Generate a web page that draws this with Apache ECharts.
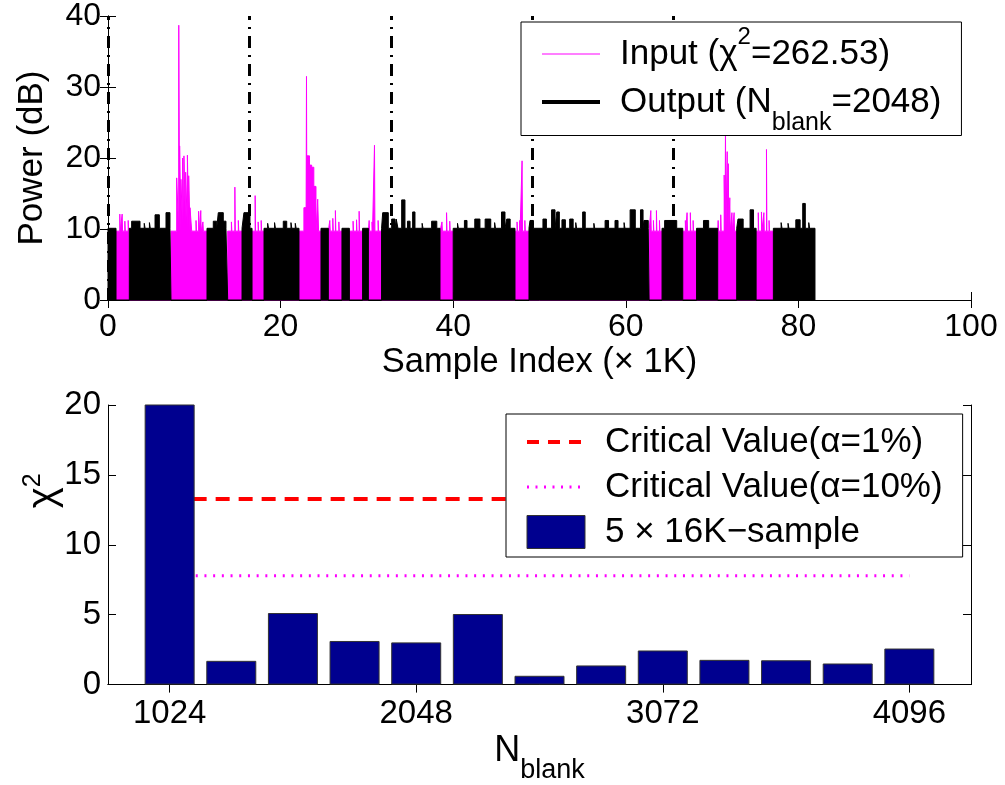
<!DOCTYPE html>
<html><head><meta charset="utf-8">
<script src="https://cdn.jsdelivr.net/npm/echarts@6/dist/echarts.min.js"></script>
<style>html,body{margin:0;padding:0;background:#fff}#c{width:1005px;height:785px}</style>
</head><body><div id="c"></div>
<script>
const FONT = '"Liberation Sans", Arial, Helvetica, sans-serif';

// ---------- Top panel: power vs sample index (x in K samples, y in dB) ----------
const frameBoundaries = [0, 16.384, 32.768, 49.152, 65.536];
// intervals where the output is present [startK, endK]
const outputBlocks = [[0,0.93],[2.47,7.30],[11.47,13.87],[15.53,16.69],[18.08,22.13],[24.68,25.53],[27.11,27.97],[29.50,30.17],[31.70,38.47],[40.00,47.16],[48.78,62.70],[64.20,66.60],[68.20,70.65],[72.85,75.10],[77.10,81.92]];
const outputBase = 10.1;
// raised parts of the output [startK, endK, dB]
const outputPeaks = [[2.74,3.71,11.1],[4.2,4.3,10.8],[4.8,4.9,10.9],[5.45,5.95,12.0],[6.72,7.18,12.3],[12.2,12.6,11.1],[12.78,13.36,12.3],[13.36,13.67,11.1],[15.75,16.45,12.3],[18.5,18.6,10.8],[19.3,19.4,10.9],[20.31,20.71,11.1],[21.2,21.3,10.9],[21.7,21.8,10.8],[31.83,32.48,12.3],[32.87,33.26,11.4],[33.4,33.6,11.4],[34.03,34.41,14.1],[34.7,35.0,11.1],[35.3,35.57,12.4],[36.4,36.5,10.8],[37.5,38.1,11.1],[40.5,40.6,10.8],[41.3,41.6,11.2],[42.5,43.1,11.4],[43.7,44.35,11.4],[44.8,44.9,10.9],[45.6,46.0,12.4],[46.2,46.6,11.4],[48.9,49.3,11.2],[50.4,50.8,11.4],[51.4,51.8,12.7],[52.0,52.3,12.4],[52.6,53.0,11.3],[53.5,53.9,11.4],[54.2,54.3,10.9],[55.0,55.3,12.4],[56.3,56.4,10.8],[57.6,58.0,11.2],[58.75,59.1,11.2],[59.8,59.9,10.9],[60.5,61.1,12.7],[61.7,62.0,12.7],[62.1,62.6,11.2],[64.5,65.9,11.2],[69.0,69.6,11.2],[73.0,73.6,11.4],[74.4,74.8,12.7],[78.0,78.1,10.9],[78.8,78.9,10.8],[79.7,80.2,11.3],[80.5,80.8,13.6],[81.2,81.3,10.9]];
// intervals where the input is visible (output blanked)
const inputBlocks = [[0.93,2.47],[7.30,11.47],[13.87,15.53],[16.69,18.08],[22.13,24.68],[25.53,27.11],[27.97,29.50],[30.17,31.70],[38.47,40.00],[47.16,48.78],[62.70,64.20],[66.60,68.20],[70.65,72.85],[75.10,77.10]];
const inputBase = 9.7;
const inputPeaks = [[1.37,1.42,12.1],[1.64,1.69,12.1],[1.95,2.0,11.1],[2.34,2.39,11.2],[7.96,8.19,17.2],[8.2,8.3,38.7],[8.3,8.45,21.7],[8.45,8.65,17.0],[8.65,8.75,20.0],[8.8,9.0,20.3],[9.0,9.2,18.0],[9.2,9.35,20.4],[9.35,9.5,17.5],[9.5,9.7,13.0],[10.2,10.25,11.2],[10.5,10.6,12.5],[10.75,10.8,12.6],[11.0,11.05,11.0],[14.3,14.35,11.0],[14.7,14.75,15.9],[15.1,15.15,11.2],[17.05,17.1,14.7],[17.4,17.45,11.0],[17.75,17.8,11.2],[22.7,22.95,13.0],[23.0,23.05,31.5],[23.05,23.35,20.3],[23.35,23.6,19.0],[23.6,23.85,18.7],[23.85,24.1,16.0],[24.3,24.4,14.2],[25.7,25.75,11.2],[26.05,26.1,11.5],[26.35,26.4,12.6],[26.75,26.8,11.0],[28.4,28.45,11.1],[28.8,28.85,11.3],[29.1,29.15,12.5],[30.26,30.31,11.2],[30.6,30.65,11.0],[30.88,30.93,21.8],[31.3,31.35,11.2],[38.7,38.75,11.0],[39.23,39.28,12.3],[39.6,39.65,11.1],[47.4,47.45,11.0],[47.7,47.75,11.2],[47.98,48.03,19.6],[48.3,48.35,11.2],[62.9,62.95,12.6],[63.2,63.25,11.2],[63.55,63.6,12.6],[63.9,63.95,11.2],[66.9,66.95,11.2],[67.1,67.15,12.3],[67.48,67.53,12.3],[67.8,67.85,11.2],[70.7,70.75,11.2],[71.0,71.05,12.0],[71.4,71.5,17.6],[71.55,71.6,24.0],[71.75,71.8,20.9],[71.88,71.93,19.2],[72.05,72.1,14.4],[72.3,72.35,12.3],[72.55,72.6,12.3],[75.35,75.4,12.3],[75.72,75.77,12.4],[76.0,76.05,12.3],[76.3,76.35,21.2],[76.6,76.65,11.2]];

// ---------- Bottom panel: chi-square vs N_blank ----------
const nBlank = [1024,1280,1536,1792,2048,2304,2560,2816,3072,3328,3584,3840,4096];
const chi2 = [21.0,1.70,5.12,3.12,3.02,5.05,0.63,1.37,2.44,1.77,1.74,1.51,2.58]; // first bar runs off the top
const critical1 = 13.28;
const critical10 = 7.78;
const bottomTicks = [1024,2048,3072,4096];

function buildProfile(blocks, base, peaks) {
  const pts = [];
  for (const [s, e] of blocks) {
    pts.push([s, 0], [s, base]);
    peaks.filter(p => p[0] >= s && p[1] <= e).sort((a, b) => a[0] - b[0]).forEach(([a, b, h]) => {
      pts.push([a, base], [a, h], [b, h], [b, base]);
    });
    pts.push([e, base], [e, 0]);
  }
  return pts;
}

const TICK = 32;
const axisCommon = {
  axisLine: {show: true, lineStyle: {color: '#000', width: 1}},
  axisTick: {show: true, inside: true, length: 8, lineStyle: {color: '#000'}},
  splitLine: {show: false},
  axisLabel: {color: '#000', fontFamily: FONT, fontSize: TICK},
  nameTextStyle: {color: '#000', fontFamily: FONT, fontSize: 35}
};
function ax(o) { return Object.assign({}, JSON.parse(JSON.stringify(axisCommon)), o); }
const noLabel = {show: false};
const plain = v => String(v);

const richSmall = {
  t: {fontFamily: FONT, fontSize: 35, color: '#000'},
  sup: {fontFamily: FONT, fontSize: 24, color: '#000', verticalAlign: 'top', height: 10},
  sub: {fontFamily: FONT, fontSize: 25, color: '#000', verticalAlign: 'bottom', height: 2}
};

const INPUT = 'Input', OUTPUT = 'Output';
const CV1 = 'Critical Value(α=1%)', CV10 = 'Critical Value(α=10%)', BARS = '5 × 16K−sample';

const option = {
  animation: false,
  backgroundColor: '#fff',
  grid: [
    {left: 108, top: 13, width: 863, height: 287},
    {left: 108, top: 405, width: 863, height: 287}
  ],
  xAxis: [
    ax({gridIndex: 0, type: 'value', min: 0, max: 100, interval: 20, position: 'bottom',
        axisLabel: {color: '#000', fontFamily: FONT, fontSize: TICK, margin: 11},
        name: 'Sample Index (× 1K)', nameLocation: 'middle', nameGap: 45,
        nameTextStyle: {color: '#000', fontFamily: FONT, fontSize: 34.5}}),
    ax({gridIndex: 0, type: 'value', min: 0, max: 100, interval: 20, position: 'top', axisLabel: noLabel}),
    ax({gridIndex: 1, type: 'value', min: 768, max: 4352, position: 'bottom',
        axisTick: {show: true, inside: true, length: 8, lineStyle: {color: '#000'}, customValues: bottomTicks},
        axisLabel: {color: '#000', fontFamily: FONT, fontSize: TICK + 1, margin: 13, customValues: bottomTicks, formatter: plain},
        name: '{n|N}{sub|blank}', nameLocation: 'middle', nameGap: 44,
        nameTextStyle: {color: '#000', fontFamily: FONT, fontSize: 35, lineHeight: 40,
          rich: {n: {fontFamily: FONT, fontSize: 36, color: '#000'}, sub: {fontFamily: FONT, fontSize: 27, color: '#000', verticalAlign: 'bottom', height: 2}}}}),
    ax({gridIndex: 1, type: 'value', min: 768, max: 4352, position: 'top', axisLabel: noLabel,
        axisTick: {show: true, inside: true, length: 8, lineStyle: {color: '#000'}, customValues: bottomTicks}})
  ],
  yAxis: [
    ax({gridIndex: 0, type: 'value', min: 0, max: 40, interval: 10, position: 'left',
        axisLabel: {color: '#000', fontFamily: FONT, fontSize: TICK, margin: 7},
        name: 'Power (dB)', nameLocation: 'middle', nameGap: 58, nameRotate: 90,
        nameTextStyle: {color: '#000', fontFamily: FONT, fontSize: 35}}),
    ax({gridIndex: 0, type: 'value', min: 0, max: 40, interval: 10, position: 'right', axisLabel: noLabel}),
    ax({gridIndex: 1, type: 'value', min: 0, max: 20, interval: 5, position: 'left',
        axisLabel: {color: '#000', fontFamily: FONT, fontSize: TICK + 1, margin: 7},
        name: '{c|χ}{sup|2}', nameLocation: 'middle', nameGap: 44, nameRotate: 90, nameMoveOverlap: false,
        nameTextStyle: {color: '#000', fontFamily: FONT, fontSize: 36, lineHeight: 40,
          rich: {c: {fontFamily: FONT, fontSize: 40, color: '#000', padding: [0, 0, 0, 108]}, sup: {fontFamily: FONT, fontSize: 25, color: '#000', verticalAlign: 'top', height: 18}}}}),
    ax({gridIndex: 1, type: 'value', min: 0, max: 20, interval: 5, position: 'right', axisLabel: noLabel})
  ],
  legend: [
    {
      orient: 'vertical', left: 521, top: 22, padding: [3, 20, 0, 19], itemGap: 4,
      itemWidth: 58, itemHeight: 20, backgroundColor: '#fff', borderColor: '#000', borderWidth: 1, z: 10,
      textStyle: {fontFamily: FONT, fontSize: 35, color: '#000', lineHeight: 44, padding: [0, 0, 0, 15], rich: richSmall},
      formatter: name => name === INPUT ? '{t|Input (χ}{sup|2}{t|=262.53)}' : '{t|Output (N}{sub|blank}{t|=2048)}',
      data: [
        {name: INPUT, lineStyle: {width: 1.2, color: '#ff00ff'}, itemStyle: {opacity: 0}},
        {name: OUTPUT, lineStyle: {width: 4, color: '#000'}, itemStyle: {opacity: 0}}
      ]
    },
    {
      orient: 'vertical', left: 506, top: 414, padding: [8, 20, 5, 19], itemGap: 5,
      itemWidth: 58, itemHeight: 33, backgroundColor: '#fff', borderColor: '#000', borderWidth: 1, z: 10,
      textStyle: {fontFamily: FONT, fontSize: 35, color: '#000', lineHeight: 40, padding: [0, 0, 0, 15]},
      data: [
        {name: CV1, lineStyle: {width: 4, color: '#ff0000', type: [12, 9]}, itemStyle: {opacity: 0}},
        {name: CV10, lineStyle: {width: 3, color: '#ff00ff', type: [2, 6.5]}, itemStyle: {opacity: 0}},
        {name: BARS, icon: 'rect', itemStyle: {color: '#00008F', borderColor: '#333', borderWidth: 1}}
      ]
    }
  ],
  series: [
    {
      name: INPUT, type: 'line', xAxisIndex: 0, yAxisIndex: 0, symbol: 'none', z: 2,
      data: buildProfile(inputBlocks, inputBase, inputPeaks),
      itemStyle: {color: '#ff00ff'},
      lineStyle: {color: '#ff00ff', width: 1},
      areaStyle: {color: '#ff00ff', opacity: 1}
    },
    {
      name: OUTPUT, type: 'line', xAxisIndex: 0, yAxisIndex: 0, symbol: 'none', z: 3,
      data: buildProfile(outputBlocks, outputBase, outputPeaks),
      itemStyle: {color: '#000'},
      lineStyle: {color: '#000', width: 1},
      areaStyle: {color: '#000', opacity: 1},
      markLine: {
        silent: true, symbol: ['none', 'none'], label: {show: false},
        lineStyle: {color: '#000', width: 3, type: [12, 7, 2, 7]},
        emphasis: {disabled: true},
        data: frameBoundaries.map(v => ({xAxis: v}))
      }
    },
    {
      name: CV1, type: 'line', xAxisIndex: 2, yAxisIndex: 2, symbol: 'none', z: 2,
      data: [[nBlank[0], critical1], [nBlank[nBlank.length - 1], critical1]],
      itemStyle: {color: '#ff0000'},
      lineStyle: {color: '#ff0000', width: 4, type: [14, 9]}
    },
    {
      name: CV10, type: 'line', xAxisIndex: 2, yAxisIndex: 2, symbol: 'none', z: 2,
      data: [[nBlank[0], critical10], [nBlank[nBlank.length - 1], critical10]],
      itemStyle: {color: '#ff00ff'},
      lineStyle: {color: '#ff00ff', width: 3, type: [2, 6.7]}
    },
    {
      name: BARS, type: 'bar', xAxisIndex: 2, yAxisIndex: 2, z: 5, barWidth: 50,
      data: nBlank.map((n, i) => [n, chi2[i]]),
      itemStyle: {color: '#00008F', borderColor: '#333', borderWidth: 1}
    }
  ]
};

const chart = echarts.init(document.getElementById('c'), null, {renderer: 'canvas'});
chart.setOption(option);
</script>
</body></html>
